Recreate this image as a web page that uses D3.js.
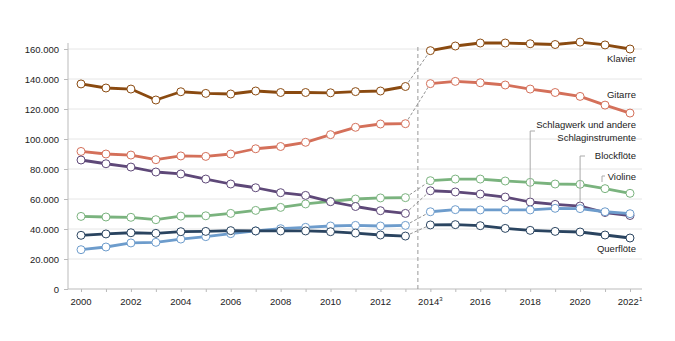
<!DOCTYPE html>
<html><head><meta charset="utf-8">
<script src="https://cdn.jsdelivr.net/npm/d3@7"></script>
<style>
body{margin:0;background:#fff;}
text{font-family:"Liberation Sans",Arial,sans-serif;}
</style></head>
<body><svg id="c" width="675" height="341"></svg>
<script>
const years = d3.range(2000, 2023);
const yTicks = [0,20000,40000,60000,80000,100000,120000,140000,160000];
const xTickYears = [2000,2002,2004,2006,2008,2010,2012,2014,2016,2018,2020,2022];
const xTickSup = {2014:"3", 2022:"1"};

const klavier   = [136.7,134,133.3,126,131.5,130.4,130,132,131,131,130.8,131.6,132,135,158.9,162,164,164,163.5,163,164.6,162.7,160];
const gitarre   = [91.7,90,89.3,86.2,88.7,88.4,90,93.5,95,97.8,102.9,107.8,110,110.2,136.9,138.4,137.5,136,133.3,131,128.4,122.6,117.3];
const blockfloete = [86,83.5,81.3,78,76.7,73.3,70,67.5,64.2,62.4,58.2,55,52.2,50.4,65.5,64.7,63.3,61.3,58,56.4,55.3,51,49];
const violine   = [48.4,48,47.8,46.2,48.6,48.8,50.4,52.4,54.4,56.7,58.4,60,60.7,60.9,72.2,73.3,73.3,72,71.1,70,69.8,66.9,63.8];
const schlagwerk = [26.2,28,30.7,31.1,33.3,34.9,36.9,38.7,40.2,41.1,42,42.4,42,42.4,51.5,52.9,52.7,52.7,52.7,53.8,53.6,51.5,50.2];
const querfloete = [35.8,36.7,37.5,37.1,38.2,38.4,38.9,38.7,38.7,38.7,38.2,37.3,36,35.3,42.7,42.9,42.2,40.4,39.1,38.4,38,36,34];

const seriesNames = ["Klavier","Gitarre","Violine","Blockflöte","Schlagwerk","Querflöte"];
const seriesVals = [klavier,gitarre,violine,blockfloete,schlagwerk,querfloete];
const seriesColors = ["#8a4a10","#d4705a","#7ab37e","#5e4878","#6d9ccc","#2a4460"];

const svg = d3.select("#c");
const x = d3.scaleLinear().domain([2000,2022]).range([81,630]);
const y = d3.scaleLinear().domain([0,160000]).range([289,49]);
const axisRight = 642;

// gridlines
svg.append("g").selectAll("line").data(yTicks.slice(1)).join("line")
  .attr("x1",68).attr("x2",axisRight).attr("y1",d=>y(d)).attr("y2",d=>y(d))
  .attr("stroke","#e6e6e6").attr("stroke-width",1);

// y axis
const yAxis = svg.append("g").attr("transform","translate(68,0)")
  .call(d3.axisLeft(y).tickValues(yTicks).tickSize(4).tickPadding(5)
    .tickFormat(d=>d3.format(",")(d).replace(/,/g,".")));
yAxis.select(".domain").attr("d","M0,43V289").attr("stroke","#bbb");
yAxis.selectAll(".tick line").attr("stroke","#bbb");
yAxis.selectAll("text").attr("font-size","9.5px").attr("fill","#222");

// x axis
const xAxis = svg.append("g").attr("transform","translate(0,289)")
  .call(d3.axisBottom(x).tickValues(years).tickSize(3).tickFormat(""));
xAxis.select(".domain").attr("d","M68,0H"+axisRight).attr("stroke","#bbb");
xAxis.selectAll(".tick line").attr("stroke","#bbb");
const xl = svg.append("g").selectAll("text").data(xTickYears).join("text")
  .attr("x",d=>x(d)).attr("y",305).attr("text-anchor","middle")
  .attr("font-size","9.5px").attr("fill","#222");
xl.append("tspan").text(d=>d);
xl.filter(d=>xTickSup[d]).append("tspan").attr("dy",-4).attr("font-size","6px").text(d=>xTickSup[d]);

// break line
svg.append("line").attr("x1",x(2013.5)).attr("x2",x(2013.5)).attr("y1",47).attr("y2",289)
  .attr("stroke","#999").attr("stroke-width",1).attr("stroke-dasharray","4,3");

// connectors
svg.append("g").selectAll("line").data(seriesVals).join("line")
  .attr("x1",x(2013)).attr("y1",d=>y(d[13]*1000))
  .attr("x2",x(2014)).attr("y2",d=>y(d[14]*1000))
  .attr("stroke","#888").attr("stroke-width",0.9).attr("stroke-dasharray","3,2");

const line = d3.line().x((d,i)=>x(years[i])).y(d=>y(d*1000));
const lineB = d3.line().x((d,i)=>x(years[i+14])).y(d=>y(d*1000));

seriesVals.forEach((vals,k)=>{
  const g = svg.append("g");
  g.append("path").attr("d",line(vals.slice(0,14))).attr("fill","none")
    .attr("stroke",seriesColors[k]).attr("stroke-width",2.8).attr("stroke-linejoin","round");
  g.append("path").attr("d",lineB(vals.slice(14))).attr("fill","none")
    .attr("stroke",seriesColors[k]).attr("stroke-width",2.8).attr("stroke-linejoin","round");
  g.selectAll("circle").data(vals).join("circle")
    .attr("cx",(d,i)=>x(years[i])).attr("cy",d=>y(d*1000)).attr("r",4)
    .attr("fill","#fff").attr("stroke",seriesColors[k]).attr("stroke-width",1);
});

// labels
const labels = [
  {t:["Klavier"], y:62},
  {t:["Gitarre"], y:98},
  {t:["Schlagwerk und andere","Schlaginstrumente"], y:128},
  {t:["Blockflöte"], y:159},
  {t:["Violine"], y:180},
  {t:["Querflöte"], y:252}
];
labels.forEach(l=>{
  const tx = svg.append("text").attr("x",636).attr("y",l.y).attr("text-anchor","end")
    .attr("font-size","9.5px").attr("fill","#222");
  l.t.forEach((s,i)=>tx.append("tspan").attr("x",636).attr("dy",i?12.5:0).text(s));
});

// leaders
const leaders = [
  `M535,131H${x(2018)}V198`,
  `M585,156H${x(2020)}V203`,
  `M605,176H602V182`
];
svg.append("g").selectAll("path").data(leaders).join("path").attr("d",d=>d)
  .attr("fill","none").attr("stroke","#aaa").attr("stroke-width",1);
</script></body></html>
